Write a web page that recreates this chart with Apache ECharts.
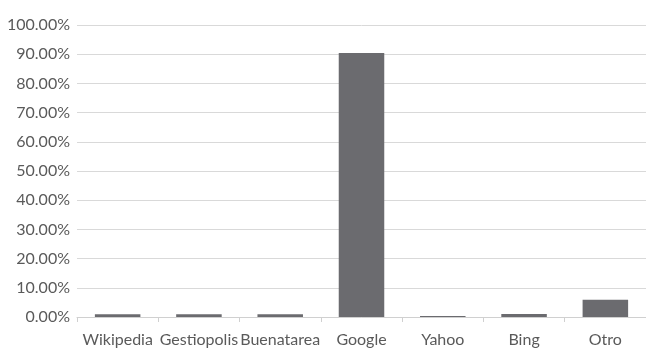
<!DOCTYPE html>
<html><head><meta charset="utf-8">
<script src="https://cdn.jsdelivr.net/npm/echarts@6/dist/echarts.min.js"></script>
<style>html,body{margin:0;padding:0;background:#fff}#c{width:646px;height:350px}</style>
</head><body><div id="c"></div>
<script>
const categories = ["Wikipedia","Gestiopolis","Buenatarea","Google","Yahoo","Bing","Otro"];
const values = [0.9, 0.9, 0.9, 90.4, 0.3, 1.0, 5.9];
const yTicks = [0,10,20,30,40,50,60,70,80,90,100];
const chart = echarts.init(document.getElementById('c'));
chart.setOption({
  animation:false,
  grid:{left:77, top:25, width:574, height:292, containLabel:false},
  xAxis:{type:'category', data:categories,
    axisLine:{lineStyle:{color:'#d0d0d0', width:1}},
    axisTick:{show:true, length:5, lineStyle:{color:'#d0d0d0'}},
    axisLabel:{color:'#5a5a5a', fontFamily:'Lato', fontSize:16, margin:15, interval:0}},
  yAxis:{type:'value', min:yTicks[0], max:yTicks[yTicks.length-1], interval:10,
    axisLine:{show:false}, axisTick:{show:false},
    splitLine:{lineStyle:{color:'#d9d9d9', width:1}},
    axisLabel:{color:'#5a5a5a', fontFamily:'Lato', fontSize:16, margin:7,
      formatter:v=>v.toFixed(2)+'%'}},
  series:[{type:'bar', data:values, barCategoryGap:'44%',
    itemStyle:{color:'#6b6b6f'}}]
});
</script></body></html>
